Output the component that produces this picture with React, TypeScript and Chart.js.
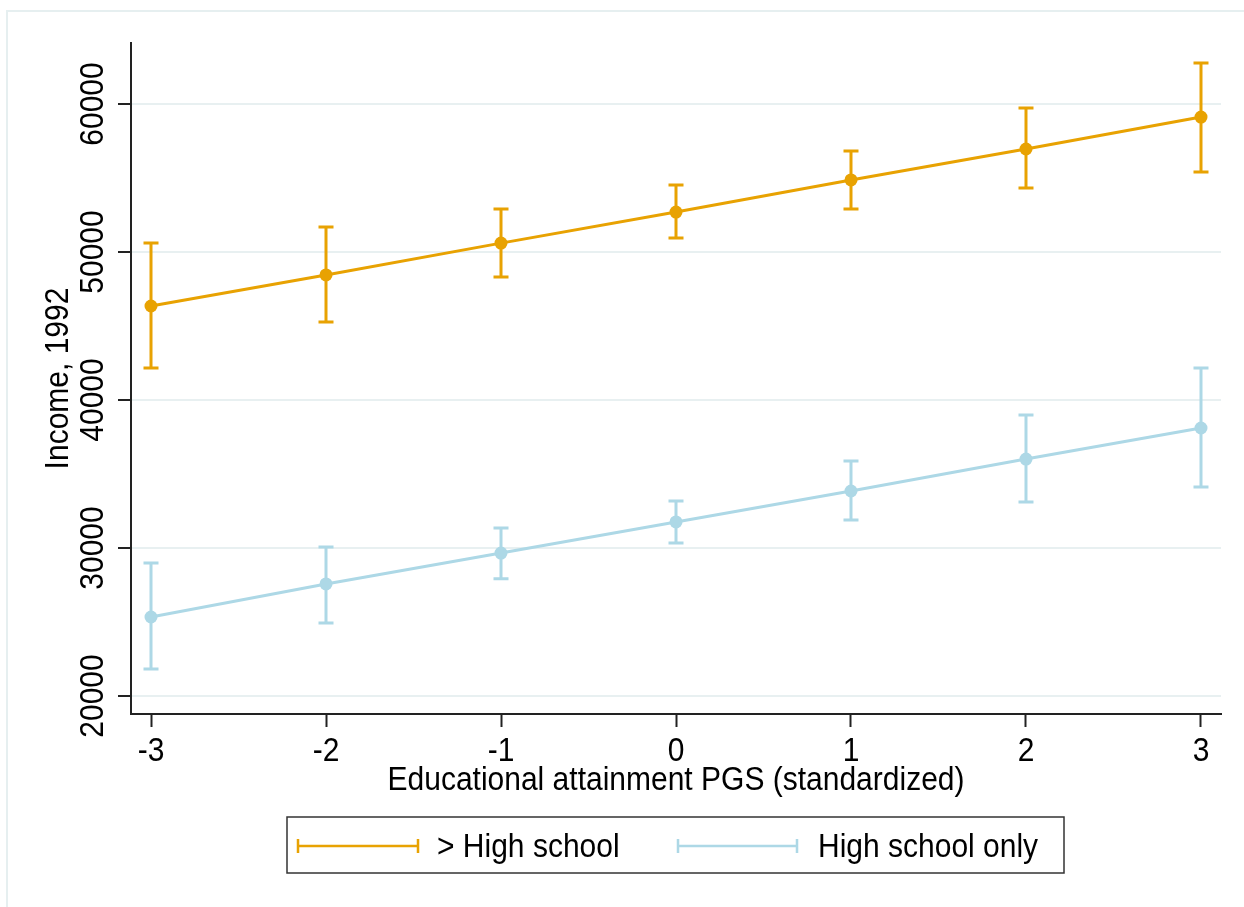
import React, { useEffect, useRef } from "react";
import { Chart, registerables } from "chart.js";

Chart.register(...registerables);

const X_VALUES = [-3, -2, -1, 0, 1, 2, 3];
const X_TICKS = [-3, -2, -1, 0, 1, 2, 3];
const Y_TICKS = [20000, 30000, 40000, 50000, 60000];

const HS_PLUS_MEAN = [46350, 48450, 50600, 52700, 54870, 56960, 59120];
const HS_PLUS_LOW = [42160, 45270, 48310, 50950, 52900, 54320, 55400];
const HS_PLUS_HIGH = [50610, 51690, 52900, 54530, 56820, 59730, 62770];

const HS_ONLY_MEAN = [25340, 27570, 29660, 31760, 33850, 36010, 38110];
const HS_ONLY_LOW = [21820, 24930, 27930, 30340, 31890, 33110, 34120];
const HS_ONLY_HIGH = [28990, 30070, 31350, 33180, 35880, 38990, 42160];

const SERIES_NAMES = ["> High school", "High school only"];
const X_TITLE = "Educational attainment PGS (standardized)";
const Y_TITLE = "Income, 1992";

const ORANGE = "#e8a202";
const LIGHTBLUE = "#add8e6";
const GRID = "#e8f0f1";
const AXIS = "#222222";
const FONT = '30px "Liberation Sans", Arial, sans-serif';

function drawText(ctx: CanvasRenderingContext2D, text: string, x: number, y: number, rot: number, align: CanvasTextAlign) {
  ctx.save();
  ctx.translate(x, y);
  ctx.rotate(rot);
  ctx.scale(1, 1.08);
  ctx.font = FONT;
  ctx.fillStyle = "#000";
  ctx.textAlign = align;
  ctx.textBaseline = "alphabetic";
  ctx.fillText(text, 0, 0);
  ctx.restore();
}

const errorBarPlugin = {
  id: "errorBars",
  beforeDatasetsDraw(chart: any) {
    const ctx = chart.ctx as CanvasRenderingContext2D;
    const xs = chart.scales.x;
    const ys = chart.scales.y;
    const sets = [
      { lo: HS_PLUS_LOW, hi: HS_PLUS_HIGH, color: ORANGE },
      { lo: HS_ONLY_LOW, hi: HS_ONLY_HIGH, color: LIGHTBLUE },
    ];
    ctx.save();
    ctx.lineWidth = 3;
    ctx.lineCap = "butt";
    for (const s of sets) {
      ctx.strokeStyle = s.color;
      X_VALUES.forEach((xv, i) => {
        const px = xs.getPixelForValue(xv);
        const pLo = ys.getPixelForValue(s.lo[i]);
        const pHi = ys.getPixelForValue(s.hi[i]);
        ctx.beginPath();
        ctx.moveTo(px, pLo);
        ctx.lineTo(px, pHi);
        ctx.moveTo(px - 7.5, pLo);
        ctx.lineTo(px + 7.5, pLo);
        ctx.moveTo(px - 7.5, pHi);
        ctx.lineTo(px + 7.5, pHi);
        ctx.stroke();
      });
    }
    ctx.restore();
  },
  afterDraw(chart: any) {
    const ctx = chart.ctx as CanvasRenderingContext2D;
    const xs = chart.scales.x;
    const ys = chart.scales.y;
    const area = chart.chartArea;

    // outer frame
    ctx.save();
    ctx.strokeStyle = "#e6eff0";
    ctx.lineWidth = 2;
    ctx.strokeRect(7, 11, 1300, 1000);
    ctx.restore();

    // y tick labels
    Y_TICKS.forEach((v) => {
      drawText(ctx, String(v), 103, ys.getPixelForValue(v), -Math.PI / 2, "center");
    });
    // y title
    drawText(ctx, Y_TITLE, 68, (area.top + area.bottom) / 2, -Math.PI / 2, "center");
    // x tick labels
    X_TICKS.forEach((v) => {
      drawText(ctx, String(v), xs.getPixelForValue(v), 761, 0, "center");
    });
    // x title
    drawText(ctx, X_TITLE, (area.left + area.right) / 2, 790, 0, "center");

    // legend
    ctx.save();
    ctx.strokeStyle = "#333";
    ctx.lineWidth = 1.5;
    ctx.strokeRect(287, 817, 777, 56);
    const items = [
      { x0: 298, x1: 418, tx: 437, color: ORANGE, label: SERIES_NAMES[0] },
      { x0: 678, x1: 797, tx: 818, color: LIGHTBLUE, label: SERIES_NAMES[1] },
    ];
    for (const it of items) {
      ctx.strokeStyle = it.color;
      ctx.lineWidth = 2.5;
      ctx.beginPath();
      ctx.moveTo(it.x0, 846);
      ctx.lineTo(it.x1, 846);
      ctx.moveTo(it.x0, 839);
      ctx.lineTo(it.x0, 853);
      ctx.moveTo(it.x1, 839);
      ctx.lineTo(it.x1, 853);
      ctx.stroke();
      drawText(ctx, it.label, it.tx, 857, 0, "left");
    }
    ctx.restore();
  },
};

export default function App() {
  const ref = useRef<HTMLCanvasElement | null>(null);

  useEffect(() => {
    if (!ref.current) return;
    const chart = new Chart(ref.current, {
      type: "line",
      data: {
        datasets: [
          {
            label: SERIES_NAMES[0],
            data: X_VALUES.map((x, i) => ({ x, y: HS_PLUS_MEAN[i] })),
            borderColor: ORANGE,
            backgroundColor: ORANGE,
            borderWidth: 3,
            pointRadius: 6.5,
            pointBorderWidth: 0,
            pointBackgroundColor: ORANGE,
            tension: 0,
          },
          {
            label: SERIES_NAMES[1],
            data: X_VALUES.map((x, i) => ({ x, y: HS_ONLY_MEAN[i] })),
            borderColor: LIGHTBLUE,
            backgroundColor: LIGHTBLUE,
            borderWidth: 3,
            pointRadius: 6.5,
            pointBorderWidth: 0,
            pointBackgroundColor: LIGHTBLUE,
            tension: 0,
          },
        ],
      },
      options: {
        responsive: false,
        animation: false,
        layout: { padding: { top: 43, right: 23, left: 0, bottom: 0 } },
        plugins: { legend: { display: false }, tooltip: { enabled: false } },
        scales: {
          x: {
            type: "linear",
            min: -3.1143,
            max: 3.1143,
            afterBuildTicks: (s: any) => {
              s.ticks = X_TICKS.map((v) => ({ value: v }));
            },
            afterFit: (s: any) => {
              s.height = 193;
            },
            ticks: { display: false },
            grid: {
              drawOnChartArea: false,
              drawTicks: true,
              tickLength: 13,
              tickColor: AXIS,
              tickWidth: 2,
            },
            border: { display: true, color: AXIS, width: 2 },
          },
          y: {
            type: "linear",
            min: 18784,
            max: 64122,
            afterBuildTicks: (s: any) => {
              s.ticks = Y_TICKS.map((v) => ({ value: v }));
            },
            afterFit: (s: any) => {
              s.width = 131;
            },
            ticks: { display: false },
            grid: {
              color: GRID,
              lineWidth: 2,
              drawTicks: true,
              tickLength: 13,
              tickColor: AXIS,
              tickWidth: 2,
            },
            border: { display: true, color: AXIS, width: 2 },
          },
        },
      },
      plugins: [errorBarPlugin],
    });
    return () => chart.destroy();
  }, []);

  return (
    <div style={{ position: "absolute", left: 0, top: 0, width: 1244, height: 907, background: "#fff" }}>
      <canvas ref={ref} width={1244} height={907} style={{ display: "block" }} />
    </div>
  );
}
